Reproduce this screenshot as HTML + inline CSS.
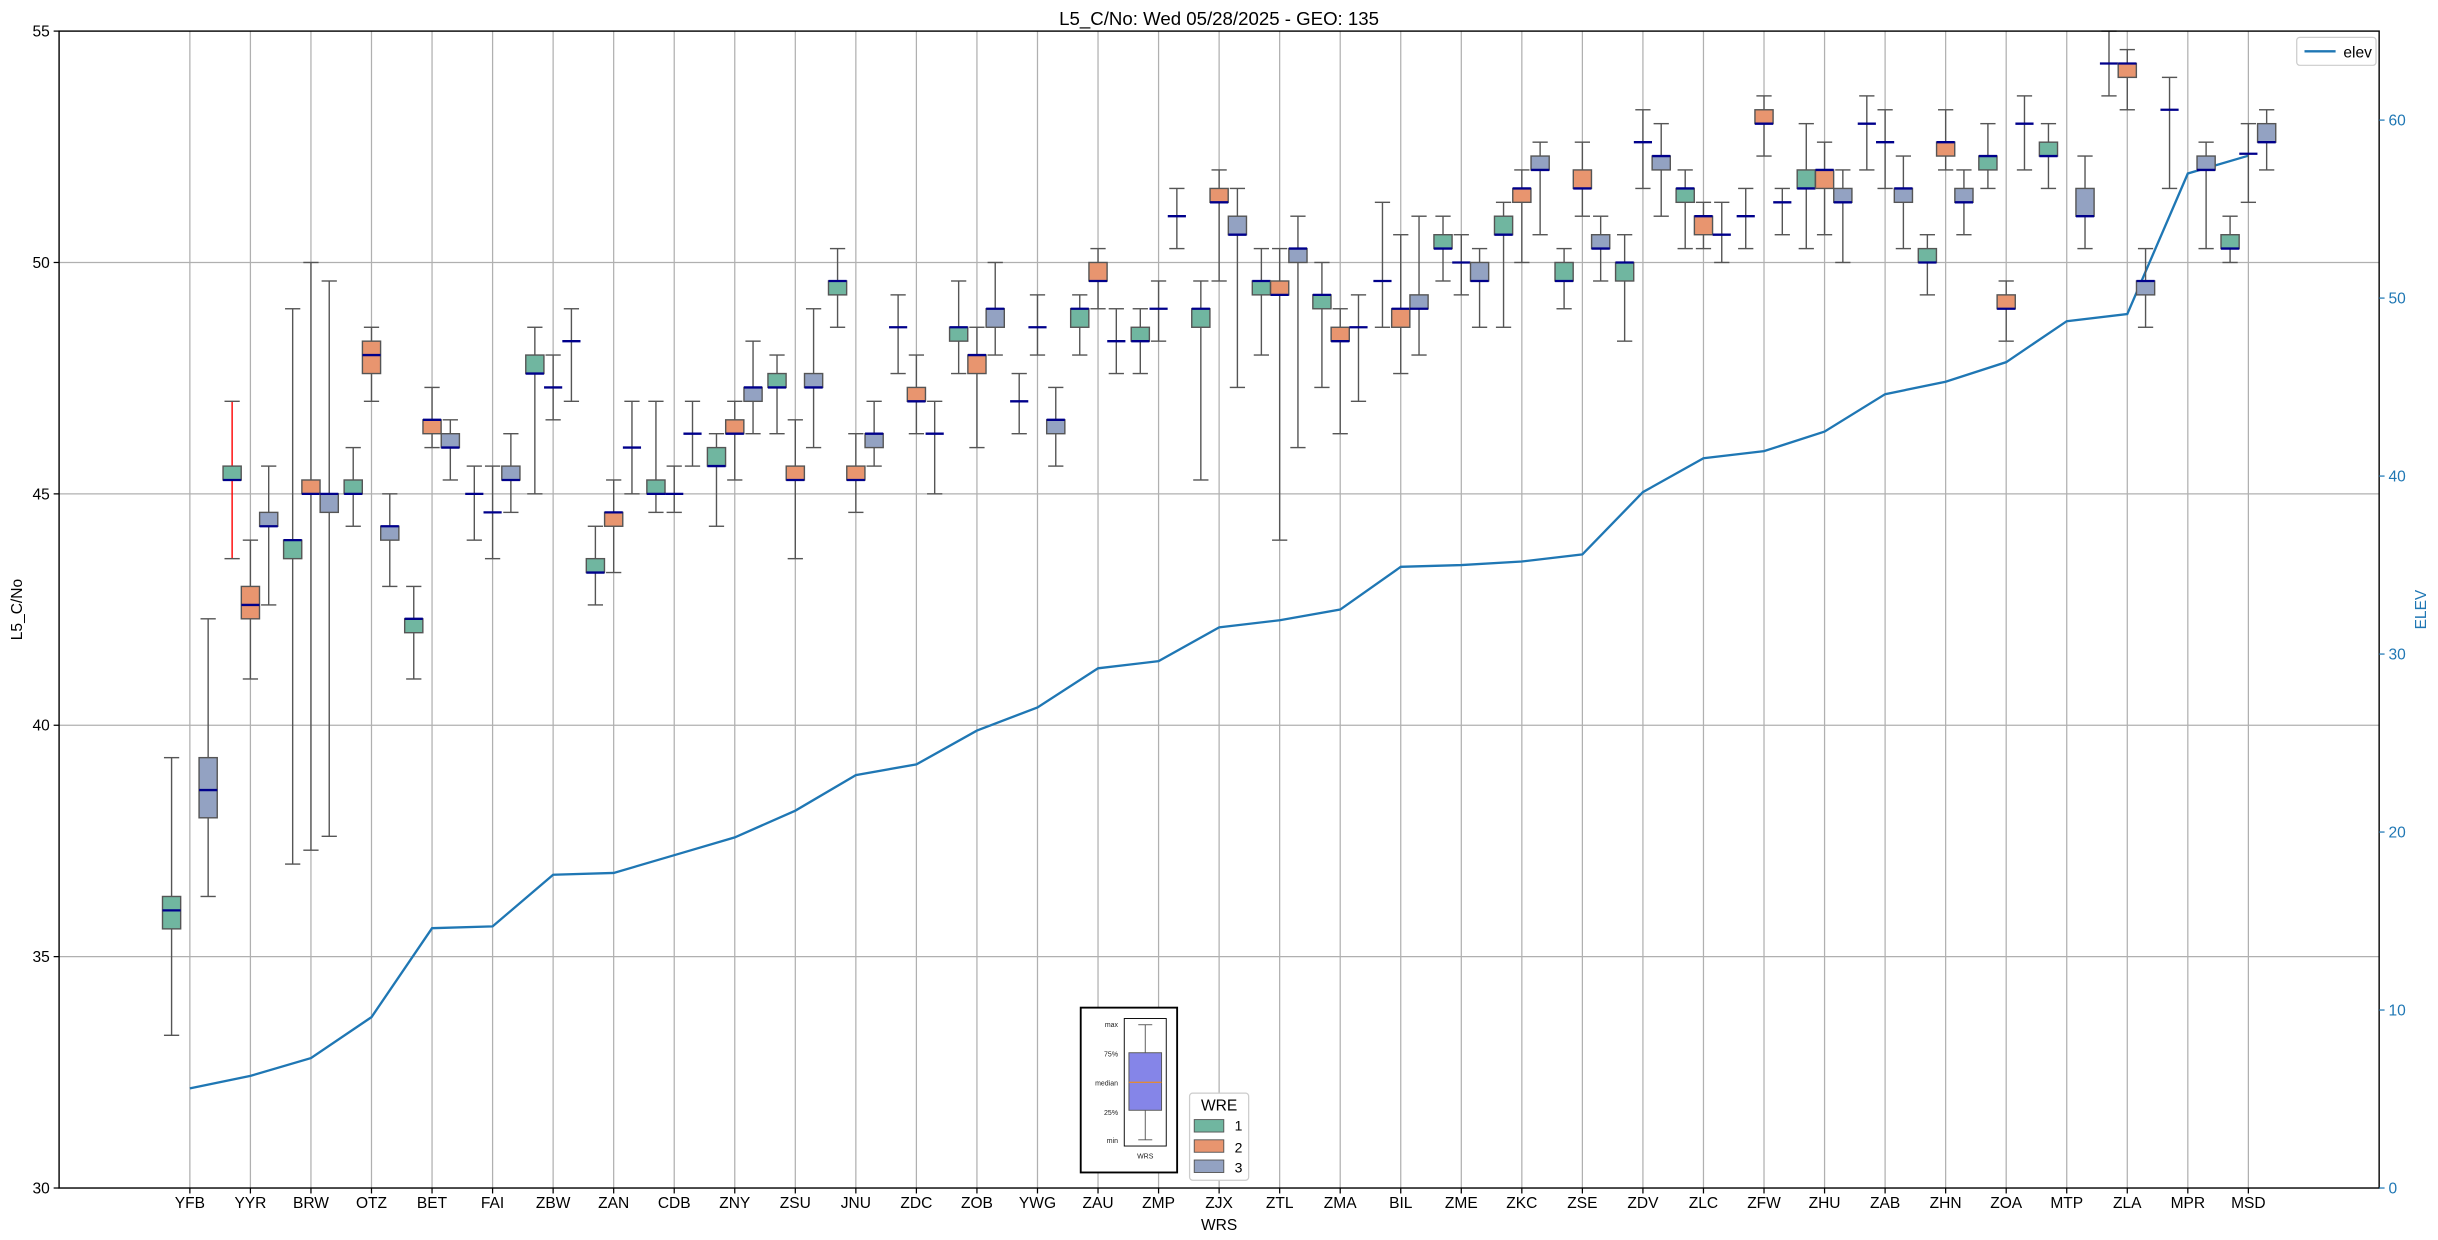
<!DOCTYPE html>
<html><head><meta charset="utf-8"><style>
html,body{margin:0;padding:0;background:#fff;}
svg{display:block;font-family:"Liberation Sans","DejaVu Sans",sans-serif;}
</style></head><body>
<svg id="chart" width="2438" height="1240" viewBox="0 0 1567.85 797.43" xmlns="http://www.w3.org/2000/svg">
<rect x="0" y="0" width="1567.85" height="797.43" fill="#fff"/>
<g id="grid"></g>
<g id="elevLayer"></g>
<g id="boxLayer"></g>
<rect x="38" y="20" width="1492" height="744" fill="none" stroke="#000" stroke-width="0.9"/>
<g id="axes"></g>
<text x="784" y="16" font-size="12" text-anchor="middle">L5_C/No: Wed 05/28/2025 - GEO: 135</text>
<text x="784" y="791" font-size="10" text-anchor="middle">WRS</text>
<text x="14" y="392" font-size="10" text-anchor="middle" transform="rotate(-90 14 392)">L5_C/No</text>
<text x="1560" y="392" font-size="10" fill="#1f77b4" text-anchor="middle" transform="rotate(-90 1560 392)">ELEV</text>
<g>
<rect x="1477" y="24" width="51" height="18" rx="2" fill="#fff" stroke="#ccc" stroke-width="0.8"/>
<line x1="1482" y1="33" x2="1502" y2="33" stroke="#1f77b4" stroke-width="1.5"/>
<text x="1507" y="37" font-size="10">elev</text>
</g>
<g>
<rect x="695" y="648" width="62" height="106" fill="#fff" stroke="#000" stroke-width="1.2"/>
<rect x="723" y="655" width="27" height="82" fill="#fff" stroke="#000" stroke-width="0.6"/>
<line x1="736.5" y1="659" x2="736.5" y2="677" stroke="#555" stroke-width="0.6"/>
<line x1="732" y1="659" x2="741" y2="659" stroke="#555" stroke-width="0.6"/>
<rect x="726" y="677" width="21" height="37" fill="#8585e8" stroke="#555" stroke-width="0.6"/>
<line x1="726" y1="696" x2="747" y2="696" stroke="#ff8c00" stroke-width="0.6"/>
<line x1="736.5" y1="714" x2="736.5" y2="733" stroke="#555" stroke-width="0.6"/>
<line x1="732" y1="733" x2="741" y2="733" stroke="#555" stroke-width="0.6"/>
<g font-size="4.5" text-anchor="end" fill="#222">
<text x="719" y="660.5">max</text><text x="719" y="679.5">75%</text><text x="719" y="698">median</text><text x="719" y="717">25%</text><text x="719" y="735">min</text>
</g>
<text x="736.5" y="745" font-size="4.5" text-anchor="middle" fill="#222">WRS</text>
</g>
<g>
<rect x="765" y="703" width="38" height="56" rx="2" fill="#fff" stroke="#ccc" stroke-width="0.8"/>
<text x="784" y="714" font-size="10" text-anchor="middle">WRE</text>
<rect x="768" y="720" width="19" height="8" fill="#70b6a0" stroke="#555" stroke-width="0.6"/>
<text x="794" y="727" font-size="9">1</text>
<rect x="768" y="733" width="19" height="8" fill="#e8956f" stroke="#555" stroke-width="0.6"/>
<text x="794" y="741" font-size="9">2</text>
<rect x="768" y="746" width="19" height="8" fill="#93a2c2" stroke="#555" stroke-width="0.6"/>
<text x="794" y="754" font-size="9">3</text>
</g>
</svg>
<script>
const categories = ["YFB","YYR","BRW","OTZ","BET","FAI","ZBW","ZAN","CDB","ZNY","ZSU","JNU","ZDC","ZOB","YWG","ZAU","ZMP","ZJX","ZTL","ZMA","BIL","ZME","ZKC","ZSE","ZDV","ZLC","ZFW","ZHU","ZAB","ZHN","ZOA","MTP","ZLA","MPR","MSD"];
const elev = [5.6,6.3,7.3,9.6,14.6,14.7,17.6,17.7,18.7,19.7,21.2,23.2,23.8,25.7,27.0,29.2,29.6,31.5,31.9,32.5,34.9,35.0,35.2,35.6,39.1,41.0,41.4,42.5,44.6,45.3,46.4,48.7,49.1,57.0,58.0];
// [min, q1, median, q3, max]
const wre1 = [[33.3,35.6,36.0,36.3,39.3],[43.6,45.3,45.3,45.6,47.0],[37.0,43.6,44.0,44.0,49.0],[44.3,45.0,45.0,45.3,46.0],[41.0,42.0,42.3,42.3,43.0],[44.0,45.0,45.0,45.0,45.6],[45.0,47.6,47.6,48.0,48.6],[42.6,43.3,43.3,43.6,44.3],[44.6,45.0,45.0,45.3,47.0],[44.3,45.6,45.6,46.0,46.3],[46.3,47.3,47.3,47.6,48.0],[48.6,49.3,49.6,49.6,50.3],[47.6,48.6,48.6,48.6,49.3],[47.6,48.3,48.6,48.6,49.6],[46.3,47.0,47.0,47.0,47.6],[48.0,48.6,49.0,49.0,49.3],[47.6,48.3,48.3,48.6,49.0],[45.3,48.6,49.0,49.0,49.6],[48.0,49.3,49.6,49.6,50.3],[47.3,49.0,49.3,49.3,50.0],[48.6,49.6,49.6,49.6,51.3],[49.6,50.3,50.3,50.6,51.0],[48.6,50.6,50.6,51.0,51.3],[49.0,49.6,49.6,50.0,50.3],[48.3,49.6,50.0,50.0,50.6],[50.3,51.3,51.6,51.6,52.0],[50.3,51.0,51.0,51.0,51.6],[50.3,51.6,51.6,52.0,53.0],[52.0,53.0,53.0,53.0,53.6],[49.3,50.0,50.0,50.3,50.6],[51.6,52.0,52.3,52.3,53.0],[51.6,52.3,52.3,52.6,53.0],[53.6,54.3,54.3,54.3,55.0],[51.6,53.3,53.3,53.3,54.0],[50.0,50.3,50.3,50.6,51.0]];
const wre2 = [null,[41.0,42.3,42.6,43.0,44.0],[37.3,45.0,45.0,45.3,50.0],[47.0,47.6,48.0,48.3,48.6],[46.0,46.3,46.6,46.6,47.3],[43.6,44.6,44.6,44.6,45.6],[46.6,47.3,47.3,47.3,48.0],[43.3,44.3,44.6,44.6,45.3],[44.6,45.0,45.0,45.0,45.6],[45.3,46.3,46.3,46.6,47.0],[43.6,45.3,45.3,45.6,46.6],[44.6,45.3,45.3,45.6,46.3],[46.3,47.0,47.0,47.3,48.0],[46.0,47.6,48.0,48.0,48.6],[48.0,48.6,48.6,48.6,49.3],[49.0,49.6,49.6,50.0,50.3],[48.3,49.0,49.0,49.0,49.6],[49.6,51.3,51.3,51.6,52.0],[44.0,49.3,49.3,49.6,50.3],[46.3,48.3,48.3,48.6,49.0],[47.6,48.6,49.0,49.0,50.6],[49.3,50.0,50.0,50.0,50.6],[50.0,51.3,51.6,51.6,52.0],[51.0,51.6,51.6,52.0,52.6],[51.6,52.6,52.6,52.6,53.3],[50.3,50.6,51.0,51.0,51.3],[52.3,53.0,53.0,53.3,53.6],[50.6,51.6,52.0,52.0,52.6],[51.6,52.6,52.6,52.6,53.3],[52.0,52.3,52.6,52.6,53.3],[48.3,49.0,49.0,49.3,49.6],null,[53.3,54.0,54.3,54.3,54.6],null,[51.3,52.35,52.35,52.35,53.0]];
const wre3 = [[36.3,38.0,38.6,39.3,42.3],[42.6,44.3,44.3,44.6,45.6],[37.6,44.6,45.0,45.0,49.6],[43.0,44.0,44.3,44.3,45.0],[45.3,46.0,46.0,46.3,46.6],[44.6,45.3,45.3,45.6,46.3],[47.0,48.3,48.3,48.3,49.0],[45.0,46.0,46.0,46.0,47.0],[45.6,46.3,46.3,46.3,47.0],[46.3,47.0,47.3,47.3,48.3],[46.0,47.3,47.3,47.6,49.0],[45.6,46.0,46.3,46.3,47.0],[45.0,46.3,46.3,46.3,47.0],[48.0,48.6,49.0,49.0,50.0],[45.6,46.3,46.6,46.6,47.3],[47.6,48.3,48.3,48.3,49.0],[50.3,51.0,51.0,51.0,51.6],[47.3,50.6,50.6,51.0,51.6],[46.0,50.0,50.3,50.3,51.0],[47.0,48.6,48.6,48.6,49.3],[48.0,49.0,49.0,49.3,51.0],[48.6,49.6,49.6,50.0,50.3],[50.6,52.0,52.0,52.3,52.6],[49.6,50.3,50.3,50.6,51.0],[51.0,52.0,52.3,52.3,53.0],[50.0,50.6,50.6,50.6,51.3],[50.6,51.3,51.3,51.3,51.6],[50.0,51.3,51.3,51.6,52.0],[50.3,51.3,51.6,51.6,52.3],[50.6,51.3,51.3,51.6,52.0],[52.0,53.0,53.0,53.0,53.6],[50.3,51.0,51.0,51.6,52.3],[48.6,49.3,49.6,49.6,50.3],[50.3,52.0,52.0,52.3,52.6],[52.0,52.6,52.6,53.0,53.3]];
const leftTicks = [30,35,40,45,50,55];
const rightTicks = [0,10,20,30,40,50,60];
const redWhiskerCats = ["YYR"];

const NS = "http://www.w3.org/2000/svg";
const PL=38, PR=1530, PT=20, PB=764;
const xMin=-2.16, xMax=categories.length-1+2.16;
function xs(i){ return PL + (i - xMin)/(xMax-xMin)*(PR-PL); }
function ys(v){ return PB - (v-30)/(55-30)*(PB-PT); }
function ye(v){ return PB - v/65*(PB-PT); }
function mk(tag, attrs, parent){ const e=document.createElementNS(NS,tag); for(const k in attrs) e.setAttribute(k, attrs[k]); parent.appendChild(e); return e; }

const grid=document.getElementById('grid');
const axes=document.getElementById('axes');
const step = xs(1)-xs(0);

categories.forEach((c,i)=>{
  const x=xs(i);
  const gl=mk('line',{x1:x,y1:PT,x2:x,y2:PB,stroke:'#b0b0b0','stroke-width':0.8},grid);
  
  
  mk('line',{x1:x,y1:PB,x2:x,y2:PB+3.5,stroke:'#000','stroke-width':0.8},axes);
  const t=mk('text',{x:x,y:PB+13,'font-size':10,'text-anchor':'middle'},axes);
  t.textContent=c;
  
  
});
leftTicks.forEach(v=>{
  const y=ys(v);
  if(v>30 && v<55){
    const gl=mk('line',{x1:PL,y1:y,x2:PR,y2:y,stroke:'#b0b0b0','stroke-width':0.8},grid);
    
    
  }
  mk('line',{x1:PL-3.5,y1:y,x2:PL,y2:y,stroke:'#000','stroke-width':0.8},axes);
  const t=mk('text',{x:PL-6,y:y+3.5,'font-size':10,'text-anchor':'end'},axes);
  t.textContent=v;
  
  
});
rightTicks.forEach(v=>{
  const y=ye(v);
  mk('line',{x1:PR,y1:y,x2:PR+3.5,y2:y,stroke:'#1f77b4','stroke-width':0.8},axes);
  const t=mk('text',{x:PR+6,y:y+3.5,'font-size':10,fill:'#1f77b4'},axes);
  t.textContent=v;
  
  
});

// elevation line
const pts = elev.map((e,i)=>xs(i).toFixed(2)+','+ye(e).toFixed(2)).join(' ');
const el = mk('polyline',{points:pts,fill:'none',stroke:'#1f77b4','stroke-width':1.5},document.getElementById('elevLayer'));



// boxes
const boxLayer=document.getElementById('boxLayer');
const groups=[wre1,wre2,wre3];
const fills=['#70b6a0','#e8956f','#93a2c2'];
const off=0.302*step, bw=0.30*step, cap=bw*0.42;
groups.forEach((g,gi)=>{
  g.forEach((s,i)=>{
    if(!s) return;
    const cx=xs(i)+(gi-1)*off;
    const gEl=mk('g',{},boxLayer);
    
    
    const wc = (gi===0 && redWhiskerCats.includes(categories[i])) ? '#ff0000' : '#555';
    const [mn,q1,md,q3,mx]=s;
    mk('line',{x1:cx,y1:ys(mx),x2:cx,y2:ys(q3),stroke:wc,'stroke-width':0.9},gEl);
    mk('line',{x1:cx,y1:ys(q1),x2:cx,y2:ys(mn),stroke:wc,'stroke-width':0.9},gEl);
    mk('line',{x1:cx-cap,y1:ys(mx),x2:cx+cap,y2:ys(mx),stroke:'#555','stroke-width':0.9},gEl);
    mk('line',{x1:cx-cap,y1:ys(mn),x2:cx+cap,y2:ys(mn),stroke:'#555','stroke-width':0.9},gEl);
    if(q3>q1){
      mk('rect',{x:cx-bw/2,y:ys(q3),width:bw,height:ys(q1)-ys(q3),fill:fills[gi],stroke:'#555','stroke-width':0.9},gEl);
    }
    mk('line',{x1:cx-bw/2,y1:ys(md),x2:cx+bw/2,y2:ys(md),stroke:'#00008b','stroke-width':1.5},gEl);
  });
});
</script>
</body></html>
